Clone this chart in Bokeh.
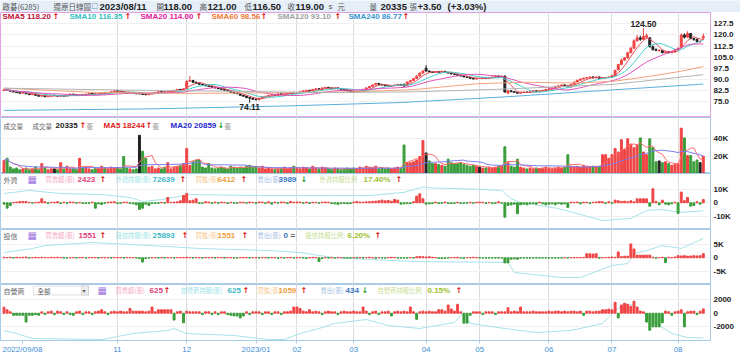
import numpy as np
import pandas as pd
from bokeh.plotting import figure
from bokeh.layouts import column
from bokeh.models import Range1d, FixedTicker, ColumnDataSource, Label, NumeralTickFormatter, BoxAnnotation
from bokeh.embed import file_html
from bokeh.resources import INLINE
from bokeh.core.properties import value

# ---------------- data ----------------
month_idx = [0, 36, 58, 80, 93, 111, 134, 151, 173, 193, 214]
month_lab = ["2022/09/08", "11", "12", "2023/01", "02", "03", "04", "05", "06", "07", "08"]

closes = [83.0, 82.6, 82.0, 81.4, 81.0, 80.6, 81.2, 80.2, 79.6, 80.0, 79.2, 78.6, 79.0, 78.2, 78.6, 79.0,
          79.0, 78.6, 79.0, 78.6, 79.2, 80.0, 79.6, 79.0, 79.4, 79.2, 80.0, 80.6, 80.0, 79.6, 80.2, 81.0, 80.6, 81.2, 81.6, 82.2,
          82.0, 81.6, 81.0, 80.6, 81.2, 80.6, 80.2, 80.2, 79.8, 79.6, 80.2, 80.8, 81.2, 81.6, 81.4, 81.2, 81.6, 82.2, 82.6, 83.2, 82.6, 83.6,
          88.6, 89.2, 88.0, 87.2, 86.6, 86.2, 85.6, 85.2, 84.6, 84.2, 83.6, 83.2, 82.6, 82.2, 81.2, 80.6, 80.2, 79.2, 78.6, 77.6, 77.2, 76.6,
          76.2, 77.2, 78.2, 78.6, 79.2, 79.6, 79.2, 80.2, 79.6, 80.2, 80.6, 81.2, 80.6,
          81.2, 81.6, 82.2, 82.6, 82.2, 83.2, 83.6, 83.2, 84.2, 84.6, 84.2, 83.6, 84.2, 83.6, 83.2, 82.6, 82.2, 81.6,
          81.2, 81.6, 82.2, 83.2, 84.2, 85.2, 86.2, 87.2, 86.6, 86.2, 85.6, 85.2, 85.6, 86.2, 86.6, 86.2, 85.4, 88.2, 89.2, 90.6, 92.2, 94.2, 95.6,
          95.6, 95.0, 94.6, 95.2, 94.8, 95.4, 94.6, 94.2, 93.6, 93.2, 92.6, 92.2, 91.6, 91.2, 90.6, 90.2, 90.6,
          90.6, 91.2, 90.6, 91.2, 91.6, 92.2, 91.6, 92.2, 81.4, 82.2, 81.6, 81.2, 80.6, 81.0, 81.4, 81.2, 81.6, 82.2, 81.6, 82.2, 82.6, 83.2,
          83.6, 84.2, 85.2, 85.6, 86.2, 85.6, 84.8, 86.6, 88.2, 89.4, 90.2, 90.8, 91.2, 91.6, 91.0, 91.6, 90.6, 91.0, 91.2, 91.6,
          92.5, 96.0, 100.0, 103.0, 104.5, 108.0, 111.0, 116.0, 118.0, 117.0, 119.0, 119.5, 112.0, 110.0, 109.5, 109.5, 108.0, 108.5, 108.0, 108.5, 110.0,
          111.0, 120.0, 118.5, 121.0, 117.5, 117.0, 115.5, 115.5, 119.0]
opens = [82.4, 83.2, 82.6, 82.0, 81.4, 81.0, 80.6, 81.2, 80.2, 79.6, 80.0, 79.2, 78.6, 79.0, 78.2, 78.6,
         79.2, 79.0, 78.6, 79.0, 78.6, 79.2, 80.0, 79.6, 79.0, 79.4, 79.2, 80.0, 80.6, 80.0, 79.6, 80.2, 81.0, 80.6, 81.2, 81.6,
         82.2, 82.0, 81.6, 81.0, 80.6, 81.2, 80.6, 80.6, 80.2, 79.8, 79.6, 80.2, 80.8, 81.2, 81.6, 81.4, 81.2, 81.6, 82.2, 82.6, 83.2, 82.6,
         83.8, 88.8, 89.2, 88.0, 87.2, 86.6, 86.2, 85.6, 85.2, 84.6, 84.2, 83.6, 83.2, 82.6, 82.2, 81.2, 80.6, 80.2, 79.2, 78.6, 77.6, 77.2,
         76.6, 76.2, 77.2, 78.2, 78.6, 79.2, 79.6, 79.2, 80.2, 79.6, 80.2, 80.6, 81.2,
         80.6, 81.2, 81.6, 82.2, 82.6, 82.2, 83.2, 83.6, 83.2, 84.2, 84.6, 84.2, 83.6, 84.2, 83.6, 83.2, 82.6, 82.2,
         81.6, 81.2, 81.6, 82.2, 83.2, 84.2, 85.2, 86.2, 87.2, 86.6, 86.2, 85.6, 85.2, 85.6, 86.2, 86.6, 86.6, 85.6, 88.2, 89.2, 90.6, 92.2, 94.2,
         97.5, 95.6, 95.0, 94.6, 95.2, 94.8, 95.4, 94.6, 94.2, 93.6, 93.2, 92.6, 92.2, 91.6, 91.2, 90.6, 90.2,
         90.6, 90.6, 91.2, 90.6, 91.2, 91.6, 92.2, 91.6, 92.2, 80.6, 82.2, 81.6, 81.2, 80.6, 81.0, 81.4, 81.2, 81.6, 82.2, 81.6, 82.2, 82.6,
         83.2, 83.6, 84.2, 85.2, 85.6, 86.2, 85.6, 84.8, 86.6, 88.2, 89.4, 90.2, 90.8, 91.2, 91.6, 91.0, 91.6, 90.6, 91.0, 91.2,
         91.6, 92.5, 96.5, 100.0, 103.0, 104.5, 108.0, 111.0, 116.0, 118.0, 117.0, 118.5, 118.0, 112.0, 110.0, 109.5, 109.5, 108.0, 108.5, 108.0, 108.5,
         110.0, 111.5, 120.0, 118.5, 121.0, 117.5, 117.0, 115.5, 118.0]
highs = [83.6, 83.6, 82.8, 82.2, 81.6, 81.2, 81.6, 81.4, 80.4, 80.4, 80.2, 79.4, 79.4, 79.2, 78.8, 79.4,
         79.6, 79.2, 79.2, 79.2, 79.4, 80.4, 80.2, 79.8, 79.6, 79.6, 80.2, 80.8, 80.8, 80.2, 80.4, 81.2, 81.2, 81.4, 81.8, 82.6,
         82.6, 82.2, 81.8, 81.2, 81.4, 81.4, 80.8, 81.4, 80.6, 80.0, 80.4, 81.0, 81.4, 81.8, 81.8, 81.6, 81.8, 82.4, 82.8, 83.4, 83.4, 83.8,
         89.4, 92.2, 89.6, 88.4, 87.6, 87.0, 86.4, 85.8, 85.4, 84.8, 84.4, 83.8, 83.4, 82.8, 82.4, 81.4, 80.8, 80.4, 79.4, 78.8, 77.8, 77.4,
         76.8, 77.4, 78.4, 78.8, 79.4, 79.8, 79.8, 80.4, 80.4, 80.4, 80.8, 81.4, 81.4,
         81.4, 81.8, 82.4, 82.8, 82.8, 83.4, 83.8, 83.8, 84.4, 84.8, 84.8, 84.4, 84.4, 84.4, 83.8, 83.4, 82.8, 82.4,
         81.8, 81.8, 82.4, 83.4, 84.4, 85.4, 86.4, 87.6, 87.4, 86.8, 86.4, 85.8, 85.8, 86.4, 86.8, 86.8, 87.0, 88.4, 89.4, 90.8, 92.6, 94.6, 96.2,
         99.5, 96.0, 95.4, 95.6, 95.4, 95.6, 95.6, 94.8, 94.4, 93.8, 93.4, 92.8, 92.4, 91.8, 91.4, 90.8, 90.8,
         90.8, 91.4, 91.4, 91.4, 91.8, 92.4, 92.4, 92.4, 92.4, 82.6, 82.4, 81.8, 81.4, 81.2, 81.6, 81.6, 81.8, 82.4, 82.4, 82.4, 82.8, 83.4,
         83.8, 84.4, 85.4, 85.8, 86.4, 86.4, 85.8, 86.8, 88.4, 89.6, 90.4, 91.0, 91.4, 91.8, 91.8, 91.8, 91.8, 91.2, 91.4, 91.8,
         93.0, 96.5, 100.5, 104.0, 105.0, 108.5, 112.0, 117.0, 120.0, 119.5, 124.5, 121.0, 118.5, 113.0, 111.0, 110.5, 110.0, 109.0, 109.0, 109.0, 110.5,
         111.5, 121.0, 121.0, 122.5, 121.0, 118.0, 117.5, 116.5, 121.0]
lows = [82.0, 82.4, 81.8, 81.2, 80.8, 80.4, 80.4, 80.0, 79.4, 79.4, 79.0, 78.4, 78.4, 78.0, 78.0, 78.4,
        78.6, 78.4, 78.4, 78.4, 78.4, 79.0, 79.4, 78.8, 78.8, 79.0, 79.0, 79.8, 79.8, 79.4, 79.4, 80.0, 80.4, 80.4, 81.0, 81.4,
        81.8, 81.4, 80.8, 80.4, 80.4, 80.4, 80.0, 79.8, 79.6, 79.2, 79.4, 80.0, 80.6, 81.0, 81.2, 81.0, 81.0, 81.4, 82.0, 82.4, 82.4, 82.4,
        83.6, 88.2, 87.6, 87.0, 86.4, 86.0, 85.4, 85.0, 84.4, 84.0, 83.4, 83.0, 82.4, 82.0, 81.0, 80.4, 80.0, 79.0, 78.4, 77.4, 74.11, 76.2,
        75.8, 75.8, 77.0, 78.0, 78.4, 79.0, 79.0, 79.0, 79.4, 79.4, 80.0, 80.4, 80.4,
        80.4, 81.0, 81.4, 82.0, 82.0, 82.0, 83.0, 83.0, 83.0, 84.0, 84.0, 83.4, 83.4, 83.4, 83.0, 82.4, 82.0, 81.4,
        81.0, 81.0, 81.4, 82.0, 83.0, 84.0, 85.0, 86.0, 86.4, 86.0, 85.4, 85.0, 85.0, 85.4, 86.0, 86.0, 85.2, 85.4, 88.0, 89.0, 90.4, 92.0, 94.0,
        95.2, 94.6, 94.2, 94.4, 94.6, 94.6, 94.4, 94.0, 93.4, 93.0, 92.4, 92.0, 91.4, 91.0, 90.4, 90.0, 90.0,
        90.2, 90.4, 90.4, 90.4, 91.0, 91.4, 91.4, 91.4, 81.0, 80.2, 81.4, 81.0, 80.4, 80.4, 80.8, 81.0, 81.0, 81.4, 81.4, 81.4, 82.0, 82.4,
        83.0, 83.4, 84.0, 85.0, 85.4, 85.4, 84.6, 84.6, 86.4, 88.0, 89.2, 90.0, 90.6, 91.0, 90.8, 90.8, 90.4, 90.4, 90.8, 91.0,
        91.2, 92.0, 96.0, 99.5, 102.5, 104.0, 107.5, 110.5, 115.5, 116.0, 116.5, 117.5, 111.5, 109.5, 109.0, 108.5, 107.5, 107.5, 107.5, 107.5, 108.0,
        109.5, 111.0, 117.5, 118.0, 117.0, 116.0, 115.0, 114.5, 116.5]

# moving averages that need history before the window
ma60_i = [0, 30, 60, 90, 110, 130, 150, 165, 180, 193, 205, 215, 222]
ma60_v = [84.0, 81.0, 80.5, 81.0, 81.5, 83.0, 87.0, 88.0, 87.5, 88.5, 92.0, 95.5, 98.56]
ma120_i = [0, 45, 70, 100, 130, 160, 193, 222]
ma120_v = [84.0, 82.5, 82.0, 81.0, 81.5, 83.5, 86.5, 93.10]
ma240_i = [0, 46, 90, 126, 158, 190, 222]
ma240_v = [69.0, 70.0, 72.0, 74.3, 78.0, 82.4, 86.77]

volume = [15500, 18000, 8000, 6000, 7000, 5000, 6000, 7000, 5000, 6000, 8000, 5000, 12000, 7000, 5000, 6000,
          6000, 5000, 13000, 6000, 9000, 6000, 6000, 5000, 18000, 7000, 8000, 6000, 5000, 7000, 6000, 9000, 7000, 6000, 8000, 7000,
          7000, 6000, 20000, 7000, 6000, 5000, 6000, 44000, 26000, 18000, 8000, 9000, 6000, 7000, 6000, 8000, 13000, 6000, 8000, 9000, 10000, 12000,
          29000, 10000, 14000, 16000, 16000, 8000, 7000, 12000, 7000, 6000, 7000, 8000, 7000, 6000, 9000, 8000, 7000, 8000, 7000, 9000, 10000, 8000,
          8000, 7000, 9000, 6000, 7000, 6000, 5000, 6000, 7000, 8000, 6000, 7000, 9000,
          7000, 6000, 8000, 7000, 6000, 9000, 7000, 6000, 8000, 7000, 6000, 5000, 7000, 6000, 5000, 6000, 7000, 6000,
          7000, 6000, 8000, 7000, 9000, 8000, 7000, 9000, 6000, 7000, 6000, 7000, 6000, 7000, 8000, 7000, 33000, 13000, 13000, 14000, 16000, 20000, 38000,
          24000, 15000, 12000, 12000, 11000, 10000, 9000, 17000, 13000, 12000, 12000, 13000, 11000, 10000, 9000, 10000, 9000,
          8000, 7000, 7000, 8000, 7000, 8000, 9000, 10000, 31000, 13000, 9000, 8000, 17000, 8000, 7000, 6000, 7000, 6000, 7000, 6000, 7000, 8000,
          7000, 6000, 7000, 8000, 7000, 8000, 22000, 9000, 8000, 9000, 8000, 10000, 9000, 8000, 9000, 8000, 9000, 22000, 22000, 18000,
          22000, 29000, 25000, 39000, 28000, 40000, 34000, 30000, 33000, 41000, 25000, 22000, 40000, 30000, 14000, 15000, 13000, 14000, 12000, 10000, 11000,
          12000, 52000, 41000, 21000, 21000, 14000, 16000, 13000, 20335]

foreign_net = [-1000, -4000, -2000, 300, 500, 1000, 1000, 1000, 300, -300, 300, 500, 3000, 800, -500, 400,
               400, 800, -500, 400, -400, 600, 500, -300, 300, -600, -500, -400, 500, -4000, -800, -1200, -500, 400, 600, 800,
               -400, -300, 500, 400, -600, -800, -1500, -5000, -4000, -1000, -2000, -600, -500, -400, 300, -300, 4000, 300, 500, 800, 1500, 5500,
               7000, 1500, 2000, 3000, -500, -300, 800, 600, -600, 500, -400, 500, 300, -500, 400, -300, -400, 500, 400, -300, 600, 300,
               -500, 600, 500, -400, 800, -1000, 500, -300, 600, 400, -500, 1000, 500,
               600, 500, -300, 500, -500, 400, 300, -400, 500, 600, 400, -500, -800, -1200, -600, -500, -800, -500,
               500, 1000, 600, 500, 700, 800, 1000, 1200, 1500, 2000, 1500, 1800, 1200, 2500, 2000, -1000, -800, -600, -500, 800, 5000, 6700, 3000,
               -1000, -800, -600, 500, -500, -400, 600, -600, -500, -300, 400, -500, -400, -300, 400, -300, 400,
               500, 400, -500, 300, -600, -400, 800, -300, -10800, -2000, -1500, -1000, -8200, -1500, -1000, -1500, -800, -500, -1000, 500, -800, -1500,
               -1000, -800, -1500, -500, -1000, -800, -3500, 500, 400, 600, -800, 500, 400, -600, 400, 600, 1000, 800, -500, 800,
               -500, 2000, 1500, 1000, 1200, 800, 1500, 800, 3000, 3000, 3000, 3000, -2500, 10500, 1000, -1500, 2000, -1000, -1500, -800, 500,
               -8000, 8000, 1500, 4000, -2500, -2000, 800, -1000, 2423]
foreign_hold_i = [0, 8, 18, 31, 40, 44, 50, 59, 81, 104, 116, 127, 133, 136, 148, 158, 161, 164, 176, 190, 199, 204, 209, 215, 222]
foreign_hold_v = [84500, 86600, 84500, 83800, 81800, 79000, 80400, 83800, 83100, 83100, 83100, 85300, 89000, 88300, 87600, 86600,
                  81000, 78300, 74200, 66000, 67400, 72900, 73500, 71500, 72639]

trust_net = [200, 100, 200, -100, 200, 100, 200, 300, -100, 100, 200, 100, 200, 100, 100, 200,
             100, 200, 100, -100, -100, 100, 100, -100, 100, 100, -100, 100, 100, 100, -100, 100, 100, 100, -100, 100,
             100, 100, -100, 100, 100, 100, -100, -300, -1600, -300, -100, 100, 100, -100, 100, -100, 100, 100, -100, 100, 100, 100,
             200, 100, -100, 100, 100, -100, 100, 100, 100, -100, 100, 100, -100, 100, 100, -100, -100, 100, 100, 100, -100, 100,
             100, -100, 100, 100, -100, 100, 100, -200, 100, -100, 100, 100, -100,
             100, 100, -100, -200, 100, 100, 100, -1400, -300, 100, -100, 100, -100, 100, 100, -100, -100, -100,
             100, -100, 100, -100, 100, 200, 100, -200, 100, -100, -100, 100, 200, 100, -100, -100, -100, -100, 100, -100, 400, 500, 400,
             300, 400, 200, 100, -200, -300, -200, -100, 100, 100, 200, -100, -200, 100, 100, 200, 100,
             -100, -100, -100, -100, -100, -100, -100, -100, -1900, -1900, -500, -400, -500, -100, -100, -100, -100, -100, -100, -100, -100, -100,
             -100, -100, -100, -100, -100, 100, -100, 100, 100, 100, 100, 100, 1500, 1500, 1400, 1500, -200, 100, 100, 200,
             300, 200, 2200, 400, 600, 600, 5200, 3300, 1000, 1000, 1000, 1000, 1000, 200, -200, 100, 200, -1800, 200, 100, 300,
             800, 700, 800, 600, 700, 800, 700, 800, 1551]
trust_hold_i = [0, 9, 13, 18, 28, 34, 52, 62, 84, 94, 100, 105, 116, 131, 160, 162, 177, 183, 193, 198, 200, 204, 209, 215, 222]
trust_hold_v = [21973, 23093, 23933, 24213, 24773, 24493, 23653, 23093, 22533, 21973, 21133, 20573, 20013, 19453, 19173, 16373,
                14973, 14973, 18333, 18893, 21693, 22533, 23933, 23093, 25893]

dealer_net = [880, 500, 200, -300, -300, -300, -300, -1300, -300, -300, -200, -300, 200, -200, 200, 300,
              -200, 300, 200, -200, 200, -200, -300, 200, 300, -200, 200, 200, -200, 200, 300, 500, 200, -200, 200, 300,
              200, 300, 200, 200, 700, 300, 300, 300, 300, 200, 300, 900, 200, 500, 500, 500, 500, 500, -1000, 200, 300, -1400,
              300, 200, 200, 200, 200, -200, 200, 200, -200, 200, -200, 200, 200, -200, -300, -400, -400, -700, -400, 200, -200, 200,
              200, 200, -200, 200, 200, -200, 200, 200, -200, 200, 200, 300, 900,
              900, 700, 300, 200, 500, 200, 300, 200, -200, 200, 300, 200, 200, -200, 200, 300, 200, 200,
              300, 200, 200, 900, 300, -200, 200, 300, -200, 200, 200, 300, -400, 200, 300, 200, 300, 200, 900, 200, -900, 200, 300,
              200, 300, 200, 200, 500, 500, 300, 1200, 600, 300, 1300, 200, -1450, -1450, -300, 200, 200,
              200, -200, 200, 200, 200, -200, 200, 200, 200, 800, 200, 300, 200, 900, 200, 200, 200, 300, 200, 200, 200, 200,
              300, 200, 300, 300, 200, 300, 200, 300, 300, 200, 300, -300, 300, 300, 200, 300, 300, 500, 500, 600,
              500, 1600, -700, 1200, 1450, 1300, 1000, 1750, 900, 300, 200, -1300, -2500, -2000, -2000, -2000, -1400, 300, 200, -300, 200,
              300, 500, -2000, 200, 300, 300, -200, 300, 625]
dealer_hold_i = [0, 4, 9, 31, 41, 52, 54, 58, 73, 84, 89, 94, 100, 105, 115, 122, 132, 143, 145, 146, 148, 159, 169, 180, 190,
                 194, 197, 200, 203, 207, 212, 217, 222]
dealer_hold_v = [2500, 1750, 500, 250, 1750, 2500, 3000, 1750, 1250, 250, 250, 1750, 3000, 4250, 5250, 3750, 3000, 4500, 6250,
                 6750, 4250, 3000, 2000, 2500, 4250, 7500, 9250, 8750, 6750, 4250, 1750, 750, 625]

# ---------------- layout constants ----------------
N = len(closes)
idx = np.arange(N)
FW = 710
X0, DX = 3.5, 3.15
xr = Range1d(-X0 / DX, (FW - X0) / DX)
LAT = "Liberation Sans"
CJK = "Noto Sans CJK TC"
SYM = "DejaVu Sans"
BLUE_OUT = "#a9cbe8"
UP, DOWN, FLAT = "#f04444", "#3a9d3a", "#222222"
grid_ticks = month_idx[1:]


def panel(h, y0, y1, ticks, overrides=None, fmt=None, outline=BLUE_OUT, bottom_axis=False):
    p = figure(frame_width=FW, frame_height=h, x_range=xr, y_range=Range1d(y0, y1),
               output_backend="svg", toolbar_location=None, y_axis_location="right",
               x_axis_location="below" if bottom_axis else None,
               min_border_left=0, min_border_right=0, min_border_top=0, min_border_bottom=0,
               background_fill_color="white", border_fill_color="white")
    p.outline_line_color = outline
    p.outline_line_width = 1
    ax = p.yaxis[0]
    ax.ticker = FixedTicker(ticks=ticks)
    if overrides:
        ax.major_label_overrides = overrides
    if fmt:
        ax.formatter = NumeralTickFormatter(format=fmt)
    ax.axis_line_color = None
    ax.major_tick_line_color = None
    ax.minor_tick_line_color = None
    ax.major_tick_out = 0
    ax.major_tick_in = 0
    ax.major_label_standoff = 3
    ax.major_label_text_font = LAT
    ax.major_label_text_font_style = "bold"
    ax.major_label_text_font_size = "8px"
    ax.major_label_text_color = "#222222"
    p.xgrid.ticker = FixedTicker(ticks=grid_ticks)
    p.xgrid.grid_line_color = "#dcdcdc"
    p.ygrid.grid_line_color = "#efefef"
    return p


def lab(p, x, y, text, color, size="8px", font=LAT, bold=False):
    p.add_layout(Label(x=x, y=y, x_units="screen", y_units="data", text=text, text_color=color,
                       text_font=font, text_font_size=size, text_font_style="bold" if bold else "normal",
                       text_baseline="middle", text_align="left"))


# ---------------- header ----------------
HH = 12
hdr = figure(frame_width=740, frame_height=HH, x_range=Range1d(0, 740), y_range=Range1d(HH, 0),
             x_axis_location=None, y_axis_location=None, toolbar_location=None, output_backend="svg",
             min_border_left=0, min_border_right=0, min_border_top=0, min_border_bottom=0,
             background_fill_color="#e6eff8", border_fill_color="#e6eff8", outline_line_color=None)
hdr.grid.visible = False
hdr_items = [(2, "啟碁(6285)", CJK, "7.5px", "normal", "#555555"),
             (53, "還原日線圖", CJK, "7.5px", "normal", "#555555"),
             (91, "☐", SYM, "7.5px", "normal", "#7a9ab8"),
             (99, "2023/08/11", LAT, "9.5px", "bold", "#222222"),
             (156, "開", CJK, "7.5px", "normal", "#555555"),
             (163, "118.00", LAT, "9.5px", "bold", "#222222"),
             (199, "高", CJK, "7.5px", "normal", "#555555"),
             (207, "121.00", LAT, "9.5px", "bold", "#222222"),
             (244, "低", CJK, "7.5px", "normal", "#555555"),
             (252, "116.50", LAT, "9.5px", "bold", "#222222"),
             (287, "收", CJK, "7.5px", "normal", "#555555"),
             (295, "119.00", LAT, "9.5px", "bold", "#222222"),
             (328, "s", LAT, "8px", "normal", "#555555"),
             (337, "元", CJK, "7.5px", "normal", "#555555"),
             (369, "量", CJK, "7.5px", "normal", "#555555"),
             (380, "20335", LAT, "9.5px", "bold", "#222222"),
             (409, "張", CJK, "7.5px", "normal", "#555555"),
             (417, "+3.50", LAT, "9.5px", "bold", "#222222"),
             (447, "(+3.03%)", LAT, "9.5px", "bold", "#222222")]
for x, t, f, s, st, c in hdr_items:
    hdr.add_layout(Label(x=x, y=HH / 2, text=t, text_font=f, text_font_size=s, text_font_style=st,
                         text_color=c, text_baseline="middle", text_align="left"))

# ---------------- price panel ----------------
PY0, PY1 = 64.19, 135.14
pm = panel(105, PY0, PY1, [75, 82.5, 90, 97.5, 105, 112.5, 120, 127.5], fmt="0.0", outline="#e2a2e2")
o = np.array(opens); c = np.array(closes); h = np.array(highs); l = np.array(lows)
cs = ColumnDataSource(dict(i=idx, o=o, c=c, h=h, l=l, top=np.maximum(o, c), bot=np.minimum(o, c),
                           col=np.where(c >= o, UP, FLAT)))
pm.segment(x0="i", y0="l", x1="i", y1="h", color="col", source=cs, line_width=1)
pm.vbar(x="i", width=0.62, top="top", bottom="bot", fill_color="col", line_color="col", source=cs)

cser = pd.Series(closes)
for ser, col in [(cser.rolling(5, min_periods=1).mean(), "#e0505a"),
                 (cser.rolling(10, min_periods=1).mean(), "#45cfcf"),
                 (cser.rolling(20, min_periods=1).mean(), "#e050b8")]:
    pm.line(idx, ser.values, color=col, line_width=1)
pm.line(ma60_i, ma60_v, color="#f4a27a", line_width=1)
pm.line(ma120_i, ma120_v, color="#b4b4b4", line_width=1)
pm.line(ma240_i, ma240_v, color="#5aaee0", line_width=1)

imax = int(np.argmax(h)); imin = int(np.argmin(l))
pm.text(x=[imax], y=[h[imax]], text=[f"{h[imax]:.2f}"], text_font=value(LAT), text_font_style="bold",
        text_font_size="8.5px", text_color="#222222", text_align="center", text_baseline="bottom", y_offset=-1)
pm.text(x=[imin], y=[l[imin]], text=[f"{l[imin]:.2f}"], text_font=value(LAT), text_font_style="bold",
        text_font_size="8.5px", text_color="#222222", text_align="center", text_baseline="top", y_offset=1)

LY = 132.2
for x, t, col in [(2, "SMA5 118.20", "#c0103a"), (69, "SMA10 116.35", "#2fc0c0"), (140, "SMA20 114.00", "#e0209a"),
                  (211, "SMA60 98.56", "#f07a3a"), (277, "SMA120 93.10", "#a0a0a0"), (348, "SMA240 86.77", "#3394d0")]:
    lab(pm, x, LY, t, col, "8px", LAT, True)
for x in [52, 124, 195, 260, 334, 402]:
    lab(pm, x, LY, "↑", "#e01010", "8px", SYM, True)

# ---------------- volume panel ----------------
pv = panel(56, 790, 64070, [20000, 40000], overrides={20000: "20K", 40000: "40K"})
vcol = [UP if closes[0] >= opens[0] else DOWN] + [UP if closes[k] > closes[k - 1] else (DOWN if closes[k] < closes[k - 1] else FLAT) for k in range(1, N)]
pv.vbar(x=idx, width=0.62, top=volume, bottom=0, fill_color=vcol, line_color=vcol)
vser = pd.Series(volume)
pv.line(idx, vser.rolling(5, min_periods=1).mean().values, color="#ff6a6a", line_width=1)
pv.line(idx, vser.rolling(20, min_periods=1).mean().values, color="#7b7bf0", line_width=1)
VY = 55030
lab(pv, 3, VY, "成交量", "#666666", "6.5px", CJK)
lab(pv, 32, VY, "成交量", "#666666", "6.5px", CJK)
lab(pv, 55, VY, "20335", "#222222", "8px", LAT, True)
lab(pv, 79, VY, "↑", "#e01010", "8px", SYM, True)
lab(pv, 86, VY, "張", "#888888", "6.5px", CJK)
lab(pv, 103, VY, "MA5 18244", "#e01818", "8px", LAT, True)
lab(pv, 145, VY, "↑", "#e01010", "8px", SYM, True)
lab(pv, 152, VY, "張", "#888888", "6.5px", CJK)
lab(pv, 170, VY, "MA20 20859", "#1f1fd0", "8px", LAT, True)
lab(pv, 217, VY, "↓", "#20a020", "8px", SYM, True)
lab(pv, 224, VY, "張", "#888888", "6.5px", CJK)


def net_panel(h, y0, y1, ticks, overrides, net, hold_i, hold_v, hrange, bottom_axis=False):
    p = panel(h, y0, y1, ticks, overrides=overrides, bottom_axis=bottom_axis)
    p.extra_y_ranges = {"hold": Range1d(*hrange)}
    p.line(hold_i, hold_v, y_range_name="hold", color="#a6e2e8", line_width=1)
    ncol = [UP if v >= 0 else DOWN for v in net]
    p.vbar(x=idx, width=0.6, top=net, bottom=0, fill_color=ncol, line_color=ncol)
    return p


pf = net_panel(56, -20000, 21950, [-10000, 0, 10000], {-10000: "-10K", 0: "0", 10000: "10K"},
               foreign_net, foreign_hold_i, foreign_hold_v, (59816, 98232))
pt = net_panel(55, -10000, 10600, [-5000, 0, 5000], {-5000: "-5K", 0: "0", 5000: "5K"},
               trust_net, trust_hold_i, trust_hold_v, (13013, 28413))
pd_ = net_panel(56, -3985, 4190, [-2000, 0, 2000], {-2000: "-2000", 0: "0", 2000: "2000"},
                dealer_net, dealer_hold_i, dealer_hold_v, (0, 14000), bottom_axis=True)

PINK_L, PINK_V = "#f4a8c4", "#e0407a"
CY_L, CY_V = "#9adfe6", "#3ab8c8"
OR_L, OR_V = "#f8c890", "#f0a040"
BL_L, BL_V = "#a0bce0", "#3a78c0"
YG_L, YG_V = "#c8dc90", "#9cc030"
ICON = "#a070e0"
CS = "6.3px"

FY = 17450
lab(pf, 3, FY, "外資", "#666666", "7px", CJK)
lab(pf, 27, FY, "▦", ICON, "10px", SYM)
lab(pf, 45, FY, "買賣超(張)", PINK_L, CS, CJK)
lab(pf, 77, FY, "2423", PINK_V, "8px", LAT, True)
lab(pf, 99, FY, "↑", "#e01010", "8px", SYM, True)
lab(pf, 115, FY, "外資持股(張)", CY_L, CS, CJK)
lab(pf, 152, FY, "72639", CY_V, "8px", LAT, True)
lab(pf, 179, FY, "↑", "#e01010", "8px", SYM, True)
lab(pf, 195, FY, "買進(張)", OR_L, CS, CJK)
lab(pf, 217, FY, "6412", OR_V, "8px", LAT, True)
lab(pf, 240, FY, "↑", "#e01010", "8px", SYM, True)
lab(pf, 257, FY, "賣出(張)", BL_L, CS, CJK)
lab(pf, 278, FY, "3989", BL_V, "8px", LAT, True)
lab(pf, 300, FY, "↓", "#20a020", "8px", SYM, True)
lab(pf, 319, FY, "外資持股比例", YG_L, CS, CJK)
lab(pf, 363, FY, "17.40%", YG_V, "8px", LAT, True)
lab(pf, 395, FY, "↑", "#e01010", "8px", SYM, True)

TY = 8350
lab(pt, 3, TY, "投信", "#666666", "7px", CJK)
lab(pt, 27, TY, "▦", ICON, "10px", SYM)
lab(pt, 45, TY, "買賣超(張)", PINK_L, CS, CJK)
lab(pt, 78, TY, "1551", PINK_V, "8px", LAT, True)
lab(pt, 99, TY, "↑", "#e01010", "8px", SYM, True)
lab(pt, 115, TY, "投信持股(張)", CY_L, CS, CJK)
lab(pt, 152, TY, "25893", CY_V, "8px", LAT, True)
lab(pt, 181, TY, "↑", "#e01010", "8px", SYM, True)
lab(pt, 195, TY, "買進(張)", OR_L, CS, CJK)
lab(pt, 217, TY, "1551", OR_V, "8px", LAT, True)
lab(pt, 241, TY, "↑", "#e01010", "8px", SYM, True)
lab(pt, 257, TY, "賣出(張)", BL_L, CS, CJK)
lab(pt, 283, TY, "0", BL_V, "8px", LAT, True)
lab(pt, 290, TY, "=", "#555555", "8px", LAT, True)
lab(pt, 305, TY, "投信持股比例", YG_L, CS, CJK)
lab(pt, 347, TY, "6.20%", YG_V, "8px", LAT, True)
lab(pt, 374, TY, "↑", "#e01010", "8px", SYM, True)

DY = 3314
pd_.add_layout(BoxAnnotation(left=33, right=88, left_units="screen", right_units="screen",
                             top=DY + 650, bottom=DY - 650, fill_color="white", fill_alpha=1,
                             line_color="#9a9a9a", line_width=1))
pd_.add_layout(BoxAnnotation(left=81, right=88, left_units="screen", right_units="screen",
                             top=DY + 650, bottom=DY - 650, fill_color="#eeeeee", fill_alpha=1,
                             line_color="#9a9a9a", line_width=1))
lab(pd_, 3, DY, "自營商", "#666666", "7px", CJK)
lab(pd_, 37, DY, "全部", "#555555", "6.5px", CJK)
lab(pd_, 82, DY, "▾", "#555555", "6px", SYM)
lab(pd_, 97, DY, "▦", ICON, "10px", SYM)
lab(pd_, 115, DY, "買賣超(張)", PINK_L, CS, CJK)
lab(pd_, 149, DY, "625", PINK_V, "8px", LAT, True)
lab(pd_, 163, DY, "↑", "#e01010", "8px", SYM, True)
lab(pd_, 180, DY, "自營商持股(張)", CY_L, CS, CJK)
lab(pd_, 227, DY, "625", CY_V, "8px", LAT, True)
lab(pd_, 242, DY, "↑", "#e01010", "8px", SYM, True)
lab(pd_, 257, DY, "買進(張)", OR_L, CS, CJK)
lab(pd_, 278, DY, "1059", OR_V, "8px", LAT, True)
lab(pd_, 300, DY, "↑", "#e01010", "8px", SYM, True)
lab(pd_, 320, DY, "賣出(張)", BL_L, CS, CJK)
lab(pd_, 345, DY, "434", BL_V, "8px", LAT, True)
lab(pd_, 361, DY, "↓", "#20a020", "8px", SYM, True)
lab(pd_, 377, DY, "自營商持股比例", YG_L, CS, CJK)
lab(pd_, 427, DY, "0.15%", YG_V, "8px", LAT, True)
lab(pd_, 455, DY, "↑", "#e01010", "8px", SYM, True)

# bottom date axis
xa = pd_.xaxis[0]
first_shift = (22 - X0) / DX   # first label is left aligned in the reference
xa.ticker = FixedTicker(ticks=[first_shift] + month_idx[1:])
xa.major_label_overrides = {first_shift: month_lab[0], **{m: t for m, t in zip(month_idx[1:], month_lab[1:])}}
xa.axis_line_color = BLUE_OUT
xa.major_tick_line_color = BLUE_OUT
xa.major_tick_out = 3
xa.major_tick_in = 0
xa.minor_tick_line_color = None
xa.major_label_standoff = 1
xa.major_label_text_font = LAT
xa.major_label_text_font_size = "8px"
xa.major_label_text_color = "#3d8fd6"

layout = column(hdr, pm, pv, pf, pt, pd_, spacing=0)
open("out.html", "w").write(file_html(layout, INLINE))
